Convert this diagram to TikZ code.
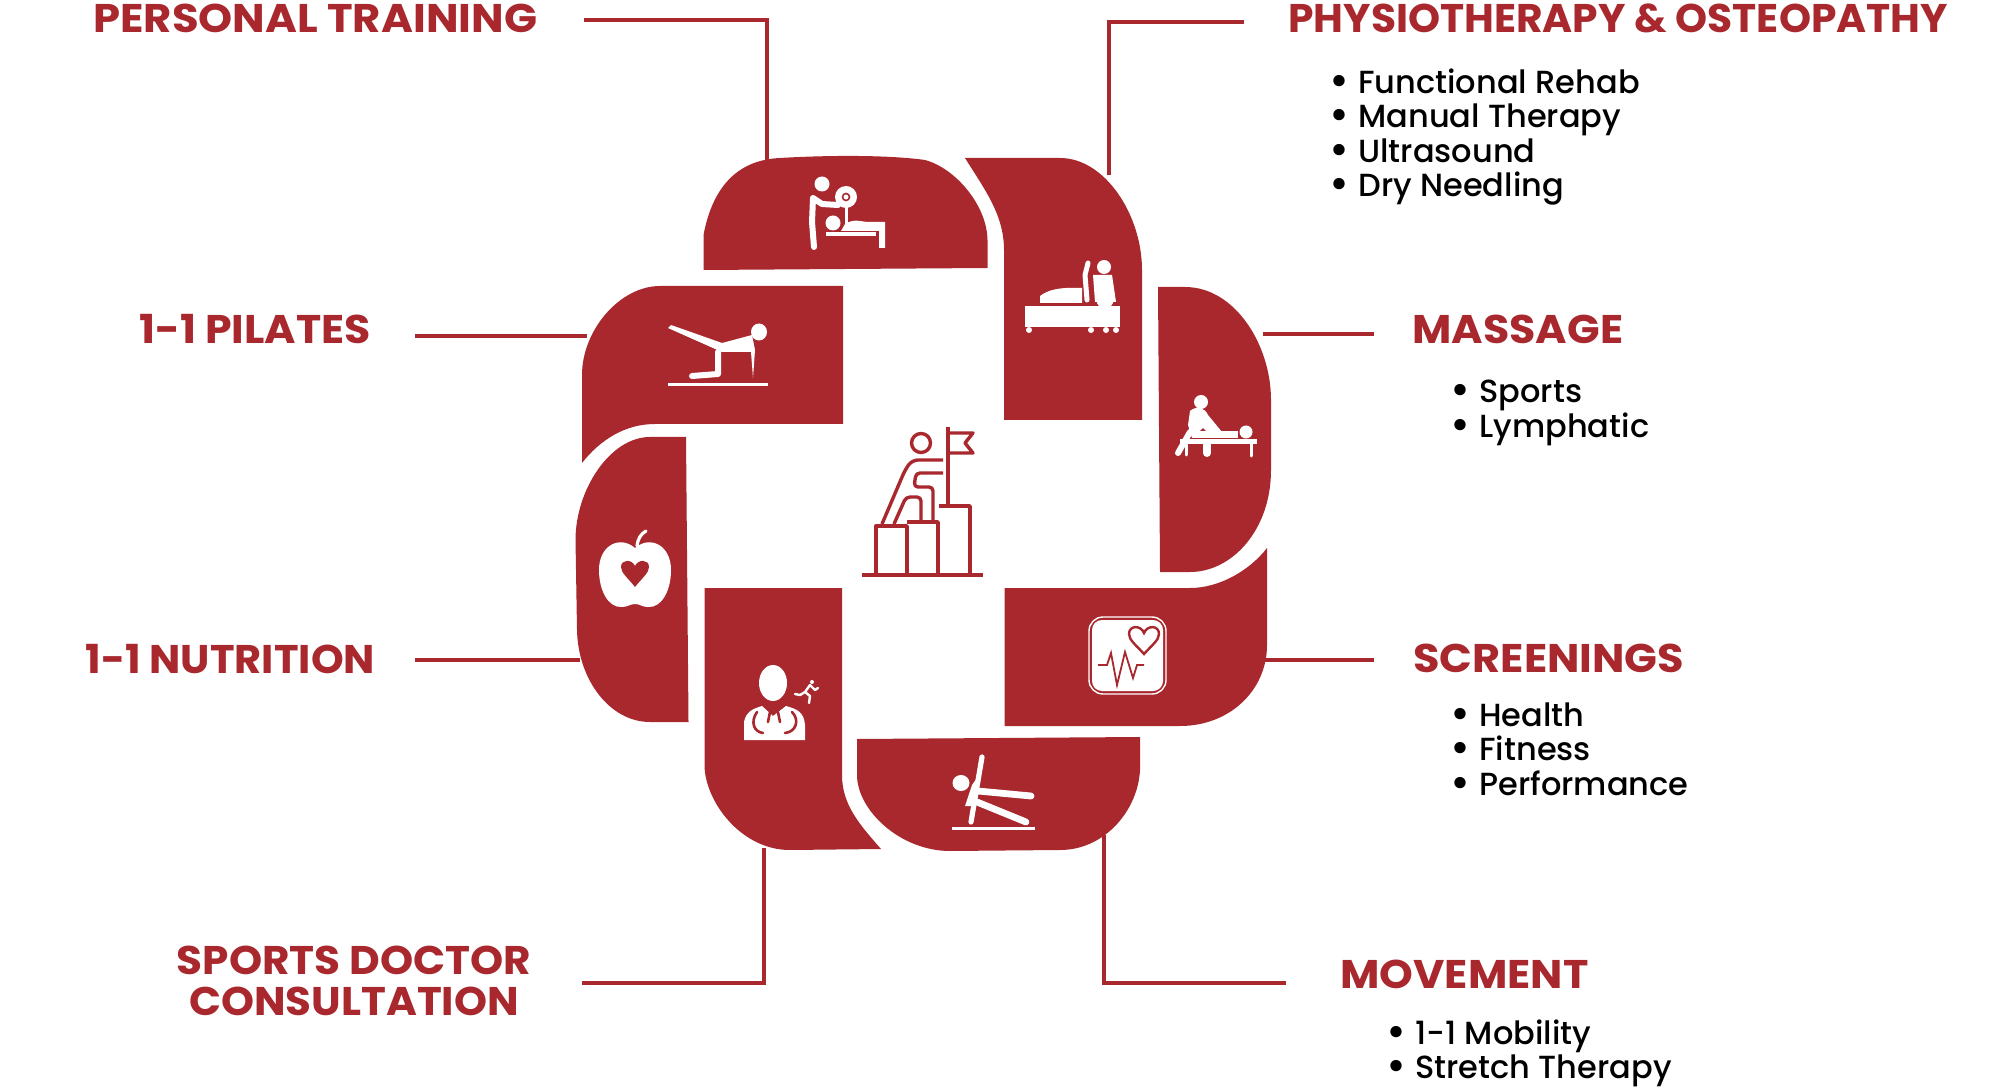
\documentclass[tikz,border=0pt]{standalone}
\usepackage{fontspec}
\setmainfont{Poppins}
\newfontfamily\listfont{Poppins Medium}
\usetikzlibrary{arrows.meta, positioning}
\definecolor{brandred}{HTML}{A8282E}

\tikzset{
    panel/.style={fill=brandred},
    link/.style={draw=brandred, line width=1.6pt},
    heading/.style={text=brandred, font=\fontsize{20}{20.5}\selectfont\bfseries, inner sep=0pt, anchor=west},
    sublist/.style={text=black, font=\fontsize{16}{17.25}\listfont, align=left, inner sep=0pt, anchor=north west},
    iconline/.style={draw=white, line cap=round, line join=round, line width=3pt},
    iconfill/.style={fill=white},
    goalline/.style={draw=brandred, line width=1.7pt, line join=round}
}
\newcommand{\bul}{\makebox[14.5pt][l]{\raisebox{-1pt}{\scalebox{1.35}{•}}}}
\newcommand{\wide}[2]{\scalebox{#1}[1]{#2}}

\begin{document}
\begin{tikzpicture}[x=0.5pt,y=-0.5pt]
\useasboundingbox (0,0) rectangle (2000,1090);

% Panels
\fill[panel] (703.5,270) -- (703.5,235) .. controls (712,190) and (735,160) .. (780,158) .. controls (830,155) and (890,155) .. (925,160) .. controls (955,168) and (987,205) .. (987.5,240) -- (987.5,268) -- cycle;
\fill[panel] (965,158) -- (1060,158) .. controls (1105,158) and (1142,215) .. (1142,270) -- (1142,420) -- (1004,420) -- (1004,250) .. controls (1004,215) and (985,190) .. (965,158) -- cycle;
\fill[panel] (1158,287) -- (1185,287) .. controls (1235,287) and (1271,345) .. (1271,400) -- (1271,470) .. controls (1271,530) and (1232,572) .. (1190,572) -- (1160,572) -- cycle;
\fill[panel] (1004.5,588) -- (1190,588) .. controls (1220,588) and (1250,570) .. (1267,548) -- (1267,645) .. controls (1267,690) and (1230,726) .. (1180,726) -- (1004.5,726) -- cycle;
\fill[panel] (857,739) -- (1140,737) -- (1140,770) .. controls (1138,810) and (1105,850) .. (1060,850) -- (950,851) .. controls (900,851) and (857,810) .. (857,775) -- cycle;
\fill[panel] (704.5,588) -- (842,588) -- (842,775) .. controls (842,805) and (860,825) .. (881,849) -- (790,850) .. controls (740,850) and (704.5,800) .. (704.5,765) -- cycle;
\fill[panel] (686,437) -- (650,437) .. controls (610,437) and (575.5,490) .. (575.5,540) -- (577,630) .. controls (578,680) and (610,722) .. (650,722) -- (688.5,722) -- cycle;
\fill[panel] (843,286) -- (660,286) .. controls (620,286) and (582,330) .. (582,375) -- (582,463) .. controls (600,440) and (625,424) .. (655,424) -- (843,424) -- cycle;

% Connector ends
\coordinate (trainOut) at (584,20);
\coordinate (trainIn) at (767,165);
\coordinate (physioOut) at (1244,22);
\coordinate (physioIn) at (1109,175);
\coordinate (massageOut) at (1374,334);
\coordinate (massageIn) at (1263,334);
\coordinate (screenOut) at (1374,660);
\coordinate (screenIn) at (1265,660);
\coordinate (moveOut) at (1286,983);
\coordinate (moveIn) at (1104,835);
\coordinate (doctorOut) at (582,983);
\coordinate (doctorIn) at (764,848);
\coordinate (nutritionOut) at (415,660);
\coordinate (nutritionIn) at (580,660);
\coordinate (pilatesOut) at (415,336);
\coordinate (pilatesIn) at (587,336);

% Connectors
\draw[link] (trainOut) -| (trainIn);
\draw[link] (physioOut) -| (physioIn);
\draw[link] (massageOut) -- (massageIn);
\draw[link] (screenOut) -- (screenIn);
\draw[link] (moveOut) -| (moveIn);
\draw[link] (doctorOut) -| (doctorIn);
\draw[link] (nutritionOut) -- (nutritionIn);
\draw[link] (pilatesOut) -- (pilatesIn);

% Headings
\node[heading] (trainHead) at (93,18) {\wide{1.084}{PERSONAL TRAINING}};
\node[heading] (physioHead) at (1288,18) {\wide{1.02}{PHYSIOTHERAPY \& OSTEOPATHY}};
\node[heading] (pilatesHead) at (139,329) {\wide{1.067}{1-1 PILATES}};
\node[heading] (massageHead) at (1412,329) {\wide{1.07}{MASSAGE}};
\node[heading] (nutritionHead) at (85,659) {\wide{1.04}{1-1 NUTRITION}};
\node[heading] (screenHead) at (1413,658) {\wide{1.077}{SCREENINGS}};
\node[heading, align=center, anchor=center] (doctorHead) at (354,981) {\wide{1.055}{SPORTS DOCTOR}\\\wide{1.05}{CONSULTATION}};
\node[heading] (moveHead) at (1340,974) {\wide{1.073}{MOVEMENT}};

% Lists under the headings
\node[sublist] (physioList) at (1329,68) {\bul Functional Rehab\\\bul Manual Therapy\\\bul Ultrasound\\\bul Dry Needling};
\node[sublist] (massageList) at (1450,380) {\bul Sports\\\bul Lymphatic};
\node[sublist] (screenList) at (1450,702) {\bul Health\\\bul Fitness\\\bul Performance};
\node[sublist] (moveList) at (1386,1019) {\bul 1-1 Mobility\\\bul Stretch Therapy};

% Trainer over bench
\fill[iconfill] (822,184) circle (7.5);
\draw[iconline] (813,198) -- (812,222) -- (814,247) (813,198) -- (822,204) -- (838,205);
\fill[iconfill] (846,197) circle (11);
\draw[brandred, line width=0.8pt] (846,197) circle (3.5);
\draw[iconline, line width=1.5pt] (846,205) -- (846,226);
\fill[iconfill] (833,223) circle (7.5);
\fill[iconfill] (841,231) -- (845,224) .. controls (855,218) and (860,222) .. (870,222) -- (885,222) -- (885,248) -- (879,248) -- (879,231) -- cycle;
\fill[iconfill] (826,232) rectangle (876,236);

% Pilates
\fill[iconfill] (759,332) ellipse (8 and 8.5);
\fill[iconfill] (668,328) -- (671,325) -- (722,343) -- (752,335) -- (755,350) -- (753,378) -- (751,352) -- (722,352) -- cycle;
\draw[iconline, line width=3pt] (718,352) -- (718,374) -- (692,376);
\fill[iconfill] (668,383) rectangle (768,386);

% Physio on table
\fill[iconfill] (1025,306) rectangle (1120,327);
\foreach \x in {1029,1091,1106,1116}
{
    \fill[iconfill] (\x,330) circle (3);
}
\fill[iconfill] (1040,303) -- (1040,296) .. controls (1048,290) and (1058,287) .. (1082,288) -- (1082,303) -- cycle;
\draw[iconline, line width=2.5pt] (1087,300) -- (1085,275) -- (1088,263);
\fill[iconfill] (1104,267) circle (7);
\fill[iconfill] (1093,275) -- (1112,275) -- (1116,302) -- (1095,302) -- cycle;
\fill[iconfill] (1105,300) circle (8.5);

% Massage on table
\fill[iconfill] (1201,402) circle (7);
\fill[iconfill] (1190,411) .. controls (1197,405) and (1205,408) .. (1208,415) -- (1222,432) -- (1213,438) -- (1203,428) -- (1192,438) -- (1188,425) -- cycle;
\draw[iconline] (1190,432) -- (1178,453);
\fill[iconfill] (1180,439) rectangle (1257,444);
\fill[iconfill] (1246,432) circle (6.5);
\fill[iconfill] (1192,431) rectangle (1238,438);
\draw[iconline, line width=1.5pt] (1186,444) -- (1186,455) (1251,444) -- (1251,456);
\draw[iconline, line width=4pt] (1207,445) -- (1207,453);

% Goal in the middle
\draw[goalline] (948,427) -- (948,506);
\draw[goalline] (948,433) -- (973,433) -- (965,443) -- (973,453) -- (948,453);
\draw[goalline] (921,443) circle (9.5);
\draw[goalline, rounded corners=3pt] (943,460) -- (912,460) -- (905,470) -- (882,524);
\draw[goalline, rounded corners=2pt] (894,524) -- (906,497) -- (921,497) -- (921,523);
\draw[goalline, rounded corners=2pt] (943,473) -- (916,473) -- (914,487) -- (933,487) -- (933,522);
\draw[goalline] (876,574) -- (876,526) -- (907,526) -- (907,574);
\draw[goalline] (907,522) -- (938,522) -- (938,574);
\draw[goalline] (939,506) -- (970,506) -- (970,574);
\draw[goalline, line width=2.2pt] (861.5,575) -- (983,575);

% Apple
\fill[iconfill] (635,548) .. controls (650,535) and (671,545) .. (671,570) .. controls (671,590) and (662,608) .. (648,607) .. controls (642,607) and (640,604) .. (635,604) .. controls (630,604) and (628,607) .. (622,607) .. controls (608,608) and (599,590) .. (599,570) .. controls (599,545) and (620,535) .. (635,548) -- cycle;
\draw[iconline, line width=1.6pt] (637,546) .. controls (638,538) and (641,534) .. (646,531);
\fill[brandred] (635,587) .. controls (628,578) and (621,573) .. (621,567) .. controls (621,559) and (632,559) .. (635,566) .. controls (638,559) and (649,559) .. (649,567) .. controls (649,573) and (642,578) .. (635,587) -- cycle;

% Doctor and runner
\fill[iconfill] (773,683) ellipse (14 and 18);
\fill[iconfill] (744,740) -- (744,722) .. controls (746,712) and (752,709) .. (762,706) -- (773,716) -- (786,706) .. controls (797,709) and (804,712) .. (805,725) -- (805,740) -- cycle;
\draw[brandred, line width=1.3pt, line cap=round] (757,712) .. controls (750,722) and (754,732) .. (763,733);
\draw[brandred, line width=1.3pt, line cap=round] (792,712) .. controls (800,720) and (796,732) .. (785,733);
\draw[brandred, line width=1.3pt, line cap=round] (770,712) -- (768,722) (778,712) -- (780,722);
\fill[iconfill] (812,682) circle (2);
\draw[iconline, line width=1.2pt] (810,685) -- (805,692) -- (810,696) -- (809,703) (805,692) -- (800,695) -- (795,694) (810,685) -- (815,690) -- (818,688);

% Screening monitor
\draw[white, line width=0.7pt, rounded corners=7pt] (1089,617) rectangle (1166,694);
\fill[white, rounded corners=5pt] (1092,620) rectangle (1163,691);
\draw[brandred, line width=1.2pt] (1144,654) .. controls (1136,645) and (1129,640) .. (1129,634) .. controls (1129,625) and (1141,625) .. (1144,633) .. controls (1147,625) and (1159,625) .. (1159,634) .. controls (1159,640) and (1152,645) .. (1144,654) -- cycle;
\draw[brandred, line width=0.9pt] (1098,665) -- (1107,665) -- (1111,653) -- (1117,685) -- (1125,652) -- (1133,678) -- (1137,665) -- (1144,665);

% Side plank
\fill[iconfill] (961,783) ellipse (8.5 and 8);
\draw[iconline, line width=2.6pt] (982,757) -- (971,822);
\fill[iconfill] (979,775) -- (974,806) -- (965,806) -- (972,785) -- cycle;
\draw[iconline, line width=3.4pt] (978,791) -- (1031,796);
\draw[iconline, line width=3.4pt] (977,802) -- (1026,822);
\fill[iconfill] (952,827) rectangle (1035,829.5);

\end{tikzpicture}
\end{document}
